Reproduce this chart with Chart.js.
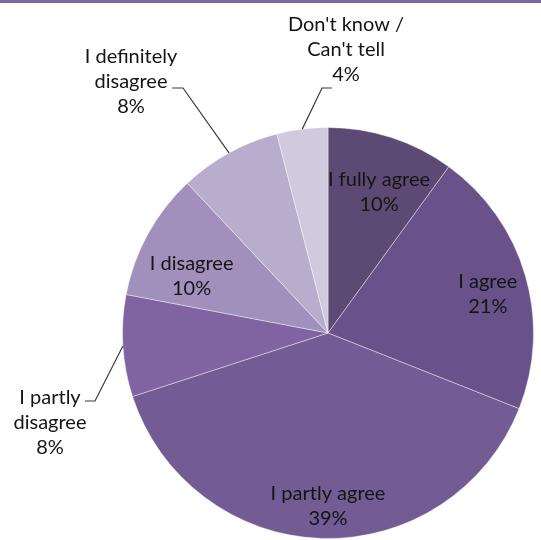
<!DOCTYPE html>
<html>
<head>
<meta charset="utf-8">
<script src="https://cdn.jsdelivr.net/npm/chart.js@4/dist/chart.umd.min.js"></script>
<style>
  html, body { margin: 0; padding: 0; background: #fff; }
  #wrap { width: 541px; height: 540px; }
</style>
</head>
<body>
<div id="wrap"><canvas id="opinion_chart" width="541" height="540"></canvas></div>
<script>
// answer categories, clockwise from 12 o'clock
const answer_labels  = [['I fully agree'], ['I agree'], ['I partly agree'], ['I partly', 'disagree'], ['I disagree'], ['I definitely', 'disagree'], ["Don't know /", "Can't tell"]]
const answer_percent = [10, 21, 39, 8, 10, 8, 4]
const slice_colors   = ['#5c4a74', '#69518a', '#735b94', '#8064a2', '#a190bb', '#b8adcc', '#d1c9dd']

// how each label is placed: inside at a fraction of the radius (with a small angle nudge, degrees),
// or outside with a leader line
const label_place = [
  { mode: 'in', r: 0.73, nudge: 1.9 },
  { mode: 'in', r: 0.80, nudge: 2.6 },
  { mode: 'in', r: 0.84, nudge: -1.8 },
  { mode: 'out', text: [50, 398], elbow: [95, 401], end: [85, 401] },
  { mode: 'in', r: 0.72, nudge: -6 },
  { mode: 'out', text: [131, 57], elbow: [183, 88], end: [172, 88] },
  { mode: 'out', text: [346, 25], elbow: [322, 88], end: [332, 88] }
]

const line_h = 25

const pie_labels_plugin = {
  id: 'pie_labels',
  beforeDraw(chart) {
    const ctx = chart.ctx
    ctx.save()
    ctx.fillStyle = '#8064a2'
    ctx.fillRect(0, 0, chart.width, 3)
    ctx.restore()
  },
  afterDatasetsDraw(chart) {
    const ctx = chart.ctx
    const meta = chart.getDatasetMeta(0)
    ctx.save()
    ctx.font = '20px Lato, "Open Sans", sans-serif'
    ctx.fillStyle = '#141414'
    ctx.textAlign = 'center'
    ctx.textBaseline = 'middle'
    meta.data.forEach((arc, i) => {
      const p = label_place[i]
      const mid = (arc.startAngle + arc.endAngle) / 2
      const lines = answer_labels[i].concat([answer_percent[i] + '%'])
      let tx, ty
      if (p.mode === 'in') {
        const a = mid + p.nudge * Math.PI / 180
        const r = arc.outerRadius * p.r
        tx = arc.x + Math.cos(a) * r
        ty = arc.y + Math.sin(a) * r - (lines.length - 1) * line_h / 2
      } else {
        tx = p.text[0]
        ty = p.text[1]
        // leader line from the slice edge to the label
        const ex = arc.x + Math.cos(mid) * arc.outerRadius
        const ey = arc.y + Math.sin(mid) * arc.outerRadius
        ctx.beginPath()
        ctx.strokeStyle = '#3a3a3a'
        ctx.lineWidth = 1.2
        ctx.moveTo(ex, ey)
        ctx.lineTo(p.elbow[0], p.elbow[1])
        ctx.lineTo(p.end[0], p.end[1])
        ctx.stroke()
      }
      lines.forEach((txt, k) => {
        ctx.fillText(txt, tx, ty + k * line_h)
      })
    })
    ctx.restore()
  }
}

const ctx = document.getElementById('opinion_chart').getContext('2d')

const chart = new Chart(ctx, {
  type: 'pie',
  data: {
    labels: answer_labels.map(l => l.join(' ')),
    datasets: [{
      data: answer_percent,
      backgroundColor: slice_colors,
      borderColor: 'rgba(255,255,255,0.4)',
      borderWidth: 1
    }]
  },
  options: {
    responsive: false,
    animation: false,
    layout: {
      padding: { left: 122, right: 7, top: 127, bottom: 1 }
    },
    plugins: {
      legend: { display: false },
      tooltip: { enabled: false }
    }
  },
  plugins: [pie_labels_plugin]
})
</script>
</body>
</html>
